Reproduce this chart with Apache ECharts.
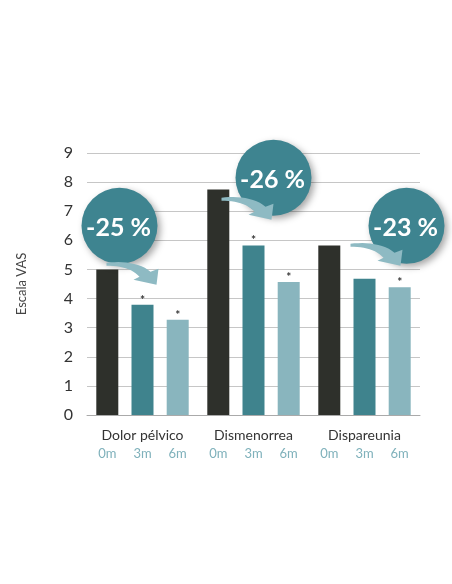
<!DOCTYPE html>
<html>
<head>
<meta charset="utf-8">
<script src="https://cdn.jsdelivr.net/npm/echarts@6/dist/echarts.min.js"></script>
<style>
  html, body { margin: 0; padding: 0; background: #fff; }
  #chart { width: 452px; height: 584px; }
</style>
</head>
<body>
<div id="chart"></div>
<script>
// categories and time points
const categories = ['Dolor pélvico', 'Dismenorrea', 'Dispareunia']
const months = ['0m', '3m', '6m']

// VAS values per time point
const vas0m = [5.0, 7.75, 5.82]
const vas3m = [3.79, 5.82, 4.68]
const vas6m = [3.27, 4.57, 4.39]

// significance marks (*)
const sig0m = [false, false, false]
const sig3m = [true, true, false]
const sig6m = [true, true, true]

// y axis ticks
const yTicks = [0, 1, 2, 3, 4, 5, 6, 7, 8, 9]

// reduction bubbles
const reductions = ['-25 %', '-26 %', '-23 %']

const colors = ['#2e302b', '#3f838d', '#89b5be']
const font = 'Lato'

const chart = echarts.init(document.getElementById('chart'))

function barSeries (name, values, sig, color) {
  return {
    name: name,
    type: 'bar',
    barWidth: 22,
    barGap: '60%',
    itemStyle: { color: color },
    data: values.map((v, i) => ({
      value: v,
      label: {
        show: sig[i],
        position: 'top',
        distance: 0,
        formatter: '*',
        fontSize: 12,
        fontWeight: 'bold',
        lineHeight: 10,
        color: '#333',
        fontFamily: font
      }
    }))
  }
}

const option = {
  animation: false,
  grid: { left: 87, right: 32, top: 153, bottom: 169 },
  xAxis: {
    type: 'category',
    data: categories,
    axisTick: { show: false },
    axisLine: { lineStyle: { color: '#aaa', width: 1 } },
    axisLabel: {
      margin: 11,
      interval: 0,
      formatter: function (v) {
        return '{c|' + v + '}\n' + months.map(m => '{m|' + m + '}').join('')
      },
      rich: {
        c: { fontSize: 14, color: '#333', fontFamily: font, lineHeight: 19 },
        m: { fontSize: 13, color: '#7fb1bb', fontFamily: font, width: 35.2, align: 'center', lineHeight: 18 }
      }
    }
  },
  yAxis: {
    type: 'value',
    min: yTicks[0],
    max: yTicks[yTicks.length - 1],
    interval: 1,
    name: 'Escala VAS',
    nameLocation: 'middle',
    nameGap: 59,
    nameTextStyle: { fontSize: 13, color: '#444', fontFamily: font },
    axisLine: { show: false },
    axisTick: { show: false },
    axisLabel: { margin: 14, fontSize: 16, color: '#333', fontFamily: font },
    splitLine: { lineStyle: { color: '#c6c6c6', width: 1 } }
  },
  series: [
    barSeries(months[0], vas0m, sig0m, colors[0]),
    barSeries(months[1], vas3m, sig3m, colors[1]),
    barSeries(months[2], vas6m, sig6m, colors[2])
  ]
}

chart.setOption(option)

// bubble anchors: [category index, y value] + pixel shift, arrow tail offset from bubble center
const bubbleAnchors = [
  { cat: 0, val: 6.5, dx: -23, tail: [-13, 37] },
  { cat: 1, val: 8.15, dx: 20, tail: [-52, 20] },
  { cat: 2, val: 6.5, dx: 42, tail: [-56, 18] }
]

// sample a cubic bezier into points
function bezier (p0, p1, p2, p3, n) {
  const pts = []
  for (let k = 0; k <= n; k++) {
    const t = k / n
    const u = 1 - t
    pts.push([
      u * u * u * p0[0] + 3 * u * u * t * p1[0] + 3 * u * t * t * p2[0] + t * t * t * p3[0],
      u * u * u * p0[1] + 3 * u * u * t * p1[1] + 3 * u * t * t * p2[1] + t * t * t * p3[1]
    ])
  }
  return pts
}

// curved arrow outline, tail at (0,0)
const arrowShape = [].concat(
  bezier([0, 0], [15, -2], [34, 0], [44, 9], 12),
  [[52, 6], [50, 22], [27, 17]],
  bezier([33, 14], [26, 6], [14, 3], [0, 3], 12)
)

const graphics = []
bubbleAnchors.forEach((b, i) => {
  const p = chart.convertToPixel({ xAxisIndex: 0, yAxisIndex: 0 }, [categories[b.cat], b.val])
  const cx = p[0] + b.dx
  const cy = p[1]
  graphics.push({
    type: 'circle',
    z: 10,
    shape: { cx: cx, cy: cy, r: 38 },
    style: {
      fill: '#3e8490',
      shadowBlur: 7,
      shadowColor: 'rgba(0,0,0,0.35)',
      shadowOffsetX: 3,
      shadowOffsetY: 3
    }
  })
  graphics.push({
    type: 'polygon',
    z: 11,
    x: cx + b.tail[0],
    y: cy + b.tail[1],
    shape: { points: arrowShape },
    style: { fill: '#8ebac3' }
  })
  graphics.push({
    type: 'text',
    z: 12,
    x: cx - 1,
    y: cy + 2,
    style: {
      text: reductions[i],
      fill: '#fff',
      font: 'bold 25px Lato',
      align: 'center',
      verticalAlign: 'middle',
      textAlign: 'center',
      textVerticalAlign: 'middle'
    }
  })
})

chart.setOption({ graphic: graphics })
</script>
</body>
</html>
